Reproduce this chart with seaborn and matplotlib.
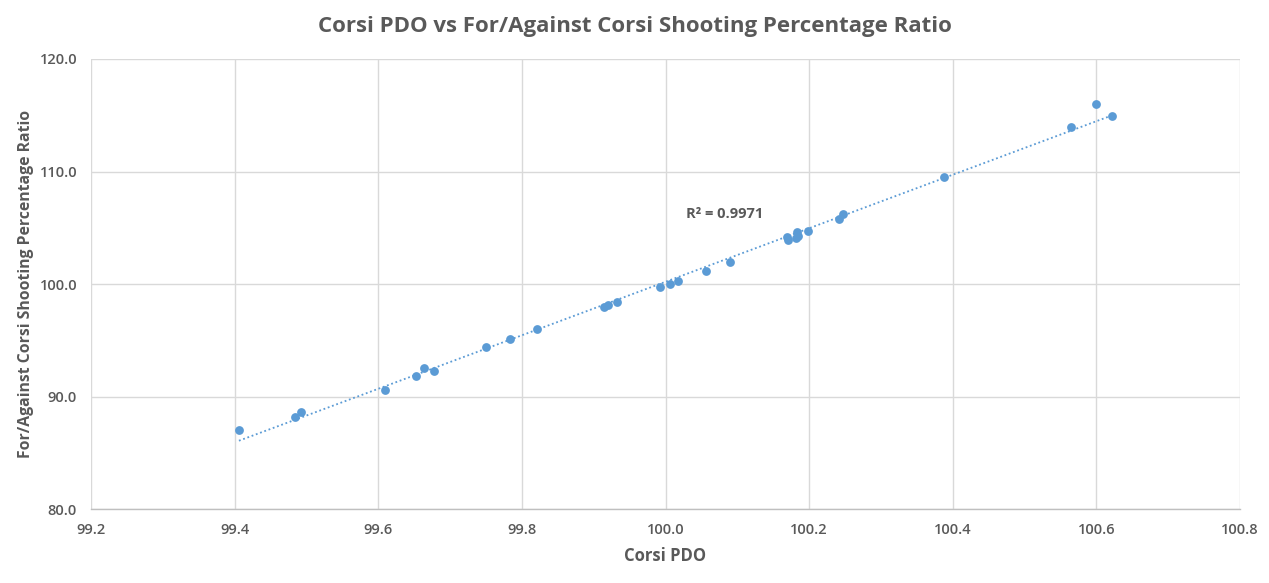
import matplotlib
matplotlib.use("Agg")
import matplotlib.pyplot as plt
import seaborn as sns
import numpy as np
import pandas as pd

corsi_pdo = [99.406, 99.484, 99.492, 99.609, 99.652, 99.663, 99.677, 99.750, 99.784, 99.821,
             99.915, 99.920, 99.933, 99.992, 100.006, 100.017, 100.057, 100.090, 100.169, 100.170,
             100.181, 100.183, 100.185, 100.199, 100.242, 100.247, 100.388, 100.564, 100.600, 100.621]
sh_ratio = [87.0, 88.2, 88.6, 90.6, 91.8, 92.5, 92.3, 94.4, 95.1, 96.0,
            98.0, 98.1, 98.4, 99.7, 100.0, 100.3, 101.2, 102.0, 104.2, 103.9,
            104.1, 104.6, 104.3, 104.7, 105.8, 106.2, 109.5, 114.0, 116.0, 114.9]
x_ticks = [99.2, 99.4, 99.6, 99.8, 100.0, 100.2, 100.4, 100.6, 100.8]
y_ticks = [80.0, 90.0, 100.0, 110.0, 120.0]

df = pd.DataFrame({"Corsi PDO": corsi_pdo, "Ratio": sh_ratio})

sns.set_theme(style="white")
plt.rcParams['font.family'] = ['Open Sans', 'DejaVu Sans']

fig = plt.figure(figsize=(12.69, 5.83), dpi=100)
ax = fig.add_axes([0.0717, 0.1269, 0.9055, 0.7719])

blue = "#5B9BD5"
grey = "#595959"

sns.regplot(data=df, x="Corsi PDO", y="Ratio", ax=ax, ci=None, truncate=True,
            scatter_kws=dict(s=40, color=blue, edgecolor=blue, linewidths=0, zorder=3, alpha=1),
            line_kws=dict(color=blue, linestyle=(0, (1, 1.5)), linewidth=1.3, zorder=2))

ax.set_xlim(99.2, 100.8)
ax.set_ylim(80, 120)
ax.set_xticks(x_ticks)
ax.set_yticks(y_ticks)
ax.set_xticklabels([f"{t:.1f}" for t in x_ticks])
ax.set_yticklabels([f"{t:.1f}" for t in y_ticks])
ax.tick_params(axis='both', labelsize=10.5, colors=grey, length=0, pad=10)
for lab in ax.get_xticklabels() + ax.get_yticklabels():
    lab.set_fontweight('semibold')

ax.grid(True, color="#D9D9D9", linewidth=1)
ax.set_axisbelow(True)
for s in ["top", "right", "left"]:
    ax.spines[s].set_visible(False)
ax.spines["bottom"].set_color("#BFBFBF")
ax.spines["bottom"].set_linewidth(1)

ax.set_xlabel("Corsi PDO", fontsize=12, color=grey, fontweight='bold', labelpad=7)
ax.set_ylabel("For/Against Corsi Shooting Percentage Ratio", fontsize=11.3, color=grey,
              fontweight='bold', labelpad=4)

ax.text(100.028, 105.9, "R² = 0.9971", fontsize=10.5, color=grey, fontweight='bold')

fig.suptitle("Corsi PDO vs For/Against Corsi Shooting Percentage Ratio",
             x=0.5, y=0.972, fontsize=16, color=grey, fontweight='bold')

fig.savefig("out.png", dpi=100)
